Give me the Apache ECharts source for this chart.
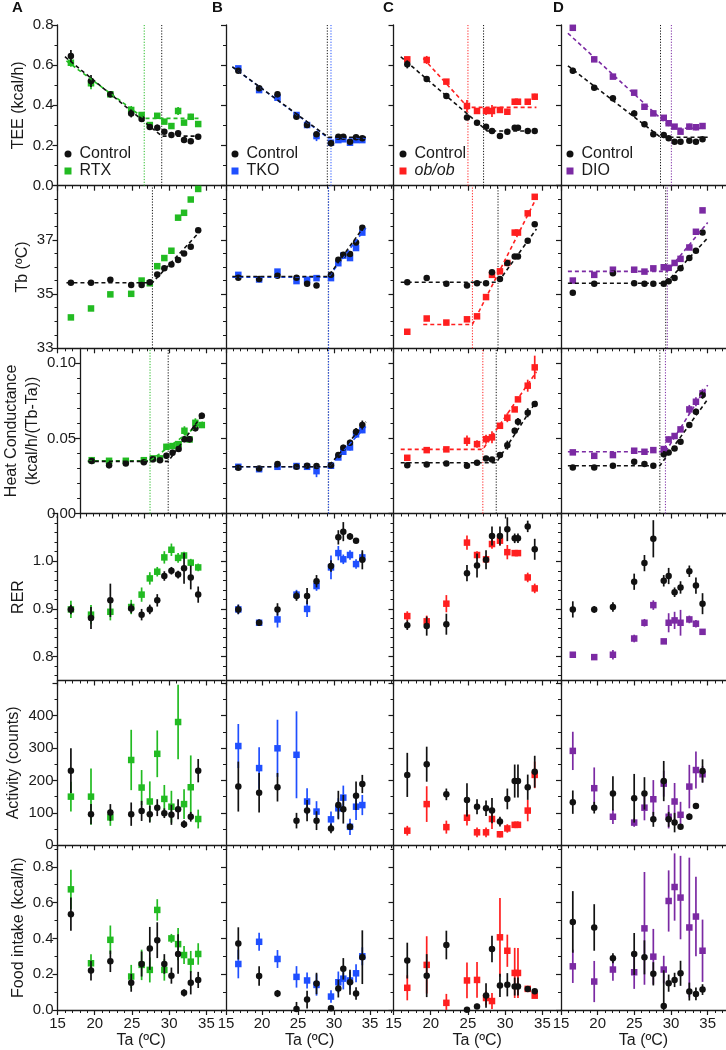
<!DOCTYPE html>
<html><head><meta charset="utf-8"><title>Thermoregulation panels</title>
<script src="https://cdn.jsdelivr.net/npm/echarts@6.0.0/dist/echarts.min.js"></script>
<style>html,body{margin:0;padding:0;background:#fff;}#chart{width:726px;height:1050px;}</style>
</head><body><div id="chart"></div>
<script>
// ===================== DATA =====================
const TA_TICKS = [15, 20, 25, 30, 35];
const TEE_TICKS = [0, 0.2, 0.4, 0.6, 0.8];
const TB_TICKS = [33, 35, 37];
const HC_TICKS = [0, 0.05, 0.10];
const RER_TICKS = [0.8, 0.9, 1.0];
const ACT_TICKS = [0, 100, 200, 300, 400];
const FOOD_TICKS = [0, 0.2, 0.4, 0.6, 0.8];

const GROUPS = ['RTX', 'TKO', 'ob/ob', 'DIO'];

const TA_A = [16.8, 19.5, 22.1, 24.9, 26.3, 27.4, 28.4, 29.35, 30.3, 31.2, 32.0, 32.9, 33.9];
const TA_B = [16.71, 19.6, 22.15, 24.79, 26.26, 27.57, 29.58, 30.6, 31.29, 32.22, 33.06, 33.93];
const TA_C = [16.85, 19.46, 22.1, 24.87, 26.22, 27.43, 28.23, 29.3, 30.29, 31.28, 31.72, 33.03, 33.97];
const TA_D = [16.61, 19.53, 22.08, 24.98, 26.38, 27.59, 29.01, 29.68, 30.49, 31.3, 32.5, 33.4, 34.3];

// ---- Column A (Control vs RTX) ----
const A_TEE_C = [0.646, 0.521, 0.455, 0.36, 0.332, 0.292, 0.289, 0.269, 0.252, 0.261, 0.227, 0.221, 0.244];
const A_TEE_CE = [0.03, 0.03, 0.015, 0.02, 0.01, 0.012, 0.015, 0.008, 0.006, 0.008, 0.008, 0.008, 0.012];
const A_TEE_E = [0.612, 0.51, 0.455, 0.377, 0.352, 0.302, 0.348, 0.319, 0.297, 0.372, 0.314, 0.343, 0.307];
const A_TEE_EE = [0.02, 0.03, 0.01, 0.02, 0.01, 0.01, 0.01, 0.01, 0.01, 0.02, 0.008, 0.015, 0.01];
const A_TEE_CFIT = [[16.0, 0.642], [29.0, 0.247], [34.05, 0.247]];
const A_TEE_EFIT = [[16.2, 0.621], [26.65, 0.335], [34.05, 0.335]];
const A_TEE_V = [29.0, 26.65];

const A_TB_C = [35.42, 35.42, 35.53, 35.34, 35.34, 35.44, 35.72, 35.95, 36.09, 36.26, 36.5, 36.75, 37.36];
const A_TB_E = [34.14, 34.47, 34.99, 35.01, 35.5, 35.4, 36.03, 36.33, 36.6, 37.82, 38.0, 38.49, 38.88];
const A_TB_CFIT = [[16.2, 35.42], [27.75, 35.42], [34.1, 37.3]];
const A_TB_V = [27.75, null];

const A_HC_C = [0.0349, 0.0322, 0.0333, 0.0342, 0.0362, 0.0355, 0.0384, 0.0404, 0.0429, 0.0495, 0.0495, 0.0567, 0.0651];
const A_HC_CE = [0.002, 0.002, 0.0015, 0.0015, 0.0015, 0.0015, 0.002, 0.002, 0.0015, 0.002, 0.002, 0.002, 0.002];
const A_HC_E = [0.0355, 0.0351, 0.0351, 0.0355, 0.0367, 0.0367, 0.0444, 0.0449, 0.0462, 0.0551, 0.0493, 0.0604, 0.0589];
const A_HC_EE = [0.0015, 0.0015, 0.0015, 0.0015, 0.0015, 0.0015, 0.002, 0.002, 0.002, 0.003, 0.002, 0.003, 0.002];
const A_HC_CFIT = [[16.2, 0.0347], [28.68, 0.0347], [34.05, 0.066]];
const A_HC_EFIT = [[16.2, 0.0351], [25.86, 0.0351], [34.05, 0.061]];
const A_HC_V = [28.68, 25.86];

const A_RER_C = [0.899, 0.881, 0.918, 0.901, 0.888, 0.899, 0.918, 0.969, 0.98, 0.972, 0.985, 0.966, 0.93];
const A_RER_CE = [0.01, 0.023, 0.035, 0.01, 0.012, 0.01, 0.013, 0.01, 0.008, 0.008, 0.032, 0.025, 0.017];
const A_RER_E = [0.899, 0.888, 0.894, 0.904, 0.93, 0.964, 0.978, 1.008, 1.024, 1.007, 1.012, 0.997, 0.987];
const A_RER_EE = [0.018, 0.02, 0.018, 0.015, 0.015, 0.013, 0.01, 0.013, 0.013, 0.01, 0.008, 0.008, 0.008];

const A_ACT_C = [230, 96, 101, 96, 106, 96, 116, 99, 94, 111, 65, 88, 230];
const A_ACT_CE = [69, 31, 26, 36, 31, 26, 26, 15, 31, 31, 12, 15, 36];
const A_ACT_E = [150, 150, 86, 263, 178, 135, 282, 143, 119, 380, 127, 179, 81];
const A_ACT_EE = [46, 87, 26, 93, 54, 62, 72, 43, 49, 115, 46, 98, 29];

const A_FOOD_C = [0.535, 0.22, 0.272, 0.152, 0.257, 0.344, 0.39, 0.257, 0.192, 0.313, 0.096, 0.152, 0.168];
const A_FOOD_CE = [0.093, 0.055, 0.06, 0.05, 0.07, 0.12, 0.1, 0.055, 0.045, 0.11, 0.02, 0.065, 0.045];
const A_FOOD_E = [0.674, 0.261, 0.392, 0.187, 0.252, 0.224, 0.559, 0.224, 0.4, 0.368, 0.307, 0.27, 0.313];
const A_FOOD_EE = [0.11, 0.05, 0.08, 0.065, 0.085, 0.07, 0.06, 0.06, 0.025, 0.09, 0.05, 0.06, 0.06];

// ---- Column B (Control vs TKO) ----
const B_TEE_C = [0.572, 0.485, 0.455, 0.343, 0.302, 0.256, 0.211, 0.244, 0.244, 0.219, 0.241, 0.236];
const B_TEE_CE = [0.01, 0.01, 0.015, 0.008, 0.006, 0.008, 0.015, 0.01, 0.01, 0.008, 0.008, 0.008];
const B_TEE_E = [0.584, 0.476, 0.438, 0.352, 0.302, 0.247, 0.214, 0.227, 0.231, 0.214, 0.227, 0.227];
const B_TEE_EE = [0.01, 0.012, 0.012, 0.008, 0.006, 0.025, 0.01, 0.01, 0.01, 0.015, 0.01, 0.01];
const B_TEE_CFIT = [[15.88, 0.592], [29.2, 0.241], [34.44, 0.241]];
const B_TEE_EFIT = [[15.88, 0.592], [29.2, 0.238], [34.44, 0.238]];
const B_TEE_V = [29.07, 29.58];

const B_TB_C = [35.6, 35.56, 35.68, 35.6, 35.38, 35.32, 35.71, 36.27, 36.45, 36.48, 36.9, 37.45];
const B_TB_E = [35.71, 35.54, 35.83, 35.48, 35.53, 35.59, 35.59, 36.14, 36.42, 36.33, 36.7, 37.27];
const B_TB_CFIT = [[15.88, 35.65], [29.2, 35.65], [34.44, 37.6]];
const B_TB_EFIT = [[15.88, 35.62], [29.2, 35.62], [34.44, 37.45]];
const B_TB_V = [29.21, 29.25];

const B_HC_C = [0.0304, 0.03, 0.0329, 0.0311, 0.0318, 0.0316, 0.0322, 0.0389, 0.0438, 0.0471, 0.0544, 0.0589];
const B_HC_CE = [0.0012, 0.0012, 0.0012, 0.0012, 0.0012, 0.0012, 0.0015, 0.0015, 0.002, 0.002, 0.0025, 0.003];
const B_HC_E = [0.0311, 0.0295, 0.0311, 0.0316, 0.0311, 0.0282, 0.0318, 0.0373, 0.0411, 0.044, 0.0527, 0.0555];
const B_HC_EE = [0.0012, 0.0012, 0.0012, 0.0012, 0.0012, 0.004, 0.0015, 0.0015, 0.002, 0.002, 0.0025, 0.002];
const B_HC_CFIT = [[15.88, 0.0311], [29.2, 0.0311], [34.44, 0.061]];
const B_HC_EFIT = [[15.88, 0.0311], [29.2, 0.0311], [34.44, 0.058]];
const B_HC_V = [29.21, 29.25];

const B_RER_C = [0.899, 0.871, 0.899, 0.927, 0.927, 0.958, 0.99, 1.05, 1.062, 1.052, 1.043, 1.003];
const B_RER_CE = [0.01, 0.007, 0.013, 0.01, 0.017, 0.013, 0.012, 0.015, 0.02, 0.007, 0.005, 0.02];
const B_RER_E = [0.899, 0.871, 0.878, 0.93, 0.9, 0.948, 0.987, 1.017, 1.004, 1.013, 0.994, 1.008];
const B_RER_EE = [0.01, 0.007, 0.017, 0.01, 0.017, 0.01, 0.025, 0.015, 0.01, 0.01, 0.01, 0.01];

const B_ACT_C = [181, 162, 179, 76, 107, 76, 52, 124, 111, 57, 153, 189];
const B_ACT_CE = [77, 61, 44, 24, 33, 29, 15, 44, 44, 10, 44, 28];
const B_ACT_E = [306, 238, 299, 279, 135, 104, 80, 114, 147, 57, 119, 124];
const B_ACT_EE = [68, 64, 88, 134, 41, 32, 24, 31, 37, 25, 41, 31];

const B_FOOD_C = [0.372, 0.19, 0.092, 0.005, 0.058, 0.148, 0.01, 0.12, 0.23, 0.155, 0.092, 0.295];
const B_FOOD_CE = [0.09, 0.055, 0.02, 0.04, 0.05, 0.06, 0.01, 0.05, 0.06, 0.07, 0.035, 0.15];
const B_FOOD_E = [0.257, 0.381, 0.285, 0.185, 0.165, 0.14, 0.075, 0.155, 0.175, 0.165, 0.205, 0.3];
const B_FOOD_EE = [0.08, 0.05, 0.05, 0.06, 0.045, 0.06, 0.035, 0.06, 0.06, 0.05, 0.05, 0.05];

// ---- Column C (Control vs ob/ob) ----
const C_TEE_C = [0.604, 0.531, 0.446, 0.339, 0.314, 0.294, 0.272, 0.247, 0.269, 0.289, 0.289, 0.272, 0.272];
const C_TEE_CE = [0.02, 0.012, 0.008, 0.008, 0.008, 0.008, 0.006, 0.01, 0.012, 0.008, 0.008, 0.006, 0.006];
const C_TEE_E = [0.629, 0.626, 0.518, 0.397, 0.372, 0.372, 0.372, 0.377, 0.368, 0.418, 0.418, 0.418, 0.443];
const C_TEE_EE = [0.01, 0.02, 0.012, 0.03, 0.012, 0.02, 0.03, 0.008, 0.015, 0.006, 0.006, 0.012, 0.015];
const C_TEE_CFIT = [[15.97, 0.642], [27.6, 0.272], [34.2, 0.272]];
const C_TEE_EFIT = [[19.0, 0.634], [25.0, 0.39], [34.2, 0.39]];
const C_TEE_V = [27.1, 25.0];

const C_TB_C = [35.44, 35.59, 35.38, 35.32, 35.4, 35.4, 35.81, 35.56, 36.15, 36.39, 36.39, 36.97, 37.58];
const C_TB_E = [33.61, 34.1, 33.95, 34.07, 34.18, 34.89, 35.71, 35.84, 36.15, 37.27, 37.27, 37.98, 38.59];
const C_TB_CFIT = [[15.97, 35.44], [29.04, 35.44], [34.2, 37.4]];
const C_TB_EFIT = [[19.0, 33.88], [25.6, 33.88], [34.2, 38.55]];
const C_TB_V = [29.04, 25.6];

const C_HC_C = [0.0322, 0.0327, 0.0333, 0.0318, 0.0338, 0.0367, 0.036, 0.0389, 0.0455, 0.0551, 0.0611, 0.0671, 0.0729];
const C_HC_CE = [0.0015, 0.0012, 0.0012, 0.0015, 0.0012, 0.0015, 0.0012, 0.0015, 0.003, 0.002, 0.0025, 0.003, 0.0015];
const C_HC_E = [0.0371, 0.0422, 0.0427, 0.0484, 0.0462, 0.0495, 0.0507, 0.0584, 0.0638, 0.0693, 0.076, 0.0851, 0.0973];
const C_HC_EE = [0.0012, 0.0012, 0.0015, 0.0035, 0.0025, 0.003, 0.004, 0.0015, 0.003, 0.0015, 0.0015, 0.004, 0.0078];
const C_HC_CFIT = [[15.97, 0.0338], [28.8, 0.0338], [34.2, 0.0749]];
const C_HC_EFIT = [[15.97, 0.0427], [27.0, 0.0427], [34.2, 0.0944]];
const C_HC_V = [28.8, 27.0];

const C_RER_C = [0.866, 0.864, 0.868, 0.975, 0.991, 1.003, 1.053, 1.053, 1.067, 1.048, 1.048, 1.073, 1.025];
const C_RER_CE = [0.01, 0.02, 0.022, 0.017, 0.025, 0.02, 0.02, 0.02, 0.025, 0.01, 0.01, 0.012, 0.022];
const C_RER_E = [0.885, 0.874, 0.911, 1.039, 1.013, 1.004, 1.036, 1.043, 1.019, 1.017, 1.017, 0.966, 0.943];
const C_RER_EE = [0.01, 0.012, 0.018, 0.015, 0.008, 0.008, 0.01, 0.01, 0.015, 0.005, 0.005, 0.01, 0.01];

const C_ACT_C = [217, 250, 157, 140, 119, 114, 107, 73, 143, 198, 198, 179, 227];
const C_ACT_CE = [68, 54, 18, 51, 23, 24, 39, 15, 32, 51, 51, 39, 49];
const C_ACT_E = [45, 127, 56, 85, 40, 40, 81, 34, 52, 63, 63, 107, 217];
const C_ACT_EE = [15, 55, 20, 24, 15, 15, 31, 10, 13, 10, 10, 33, 41];

const C_FOOD_C = [0.276, 0.192, 0.363, 0.002, 0.02, 0.081, 0.341, 0.137, 0.141, 0.131, 0.131, 0.118, 0.105];
const C_FOOD_CE = [0.1, 0.12, 0.08, 0.0, 0.015, 0.068, 0.074, 0.065, 0.065, 0.05, 0.05, 0.01, 0.01];
const C_FOOD_E = [0.124, 0.252, 0.04, 0.165, 0.168, 0.067, 0.05, 0.406, 0.331, 0.207, 0.207, 0.118, 0.08];
const C_FOOD_EE = [0.07, 0.16, 0.05, 0.1, 0.1, 0.04, 0.045, 0.22, 0.09, 0.14, 0.14, 0.01, 0.01];

// ---- Column D (Control vs DIO) ----
const D_TEE_C = [0.572, 0.488, 0.435, 0.36, 0.306, 0.256, 0.252, 0.236, 0.219, 0.219, 0.224, 0.219, 0.231];
const D_TEE_CE = [0.015, 0.012, 0.008, 0.015, 0.006, 0.006, 0.015, 0.006, 0.005, 0.005, 0.005, 0.006, 0.006];
const D_TEE_E = [0.786, 0.629, 0.543, 0.463, 0.393, 0.36, 0.338, 0.311, 0.294, 0.269, 0.294, 0.291, 0.297];
const D_TEE_EE = [0.008, 0.008, 0.008, 0.01, 0.01, 0.008, 0.012, 0.012, 0.01, 0.008, 0.015, 0.015, 0.015];
const D_TEE_CFIT = [[15.94, 0.597], [28.57, 0.241], [35.0, 0.241]];
const D_TEE_EFIT = [[15.94, 0.759], [30.05, 0.286], [34.75, 0.286]];
const D_TEE_V = [28.57, 30.05];

const D_TB_C = [35.05, 35.38, 35.77, 35.4, 35.38, 35.38, 35.38, 35.47, 35.59, 35.95, 36.33, 36.6, 37.27];
const D_TB_E = [35.5, 35.71, 35.9, 35.9, 35.83, 35.95, 35.99, 35.97, 36.15, 36.3, 36.72, 37.3, 38.09];
const D_TB_CFIT = [[15.94, 35.4], [29.28, 35.4], [35.0, 37.07]];
const D_TB_EFIT = [[15.94, 35.84], [29.5, 35.84], [35.0, 37.64]];
const D_TB_V = [29.28, 29.5];

const D_HC_C = [0.0307, 0.0307, 0.0318, 0.0344, 0.0329, 0.0318, 0.0395, 0.0407, 0.0433, 0.0478, 0.0589, 0.0677, 0.0789];
const D_HC_CE = [0.0012, 0.0012, 0.0012, 0.0015, 0.0012, 0.0012, 0.002, 0.0015, 0.0015, 0.0015, 0.0015, 0.002, 0.0025];
const D_HC_E = [0.0407, 0.0384, 0.0389, 0.0418, 0.0411, 0.0422, 0.0429, 0.0493, 0.0516, 0.056, 0.0693, 0.0744, 0.08];
const D_HC_EE = [0.0012, 0.0015, 0.0015, 0.0012, 0.0012, 0.0012, 0.0015, 0.002, 0.0015, 0.0015, 0.003, 0.003, 0.003];
const D_HC_CFIT = [[15.94, 0.0318], [28.48, 0.0318], [35.0, 0.076]];
const D_HC_EFIT = [[15.94, 0.0411], [29.24, 0.0411], [35.0, 0.0855]];
const D_HC_V = [28.48, 29.24];

const D_RER_C = [0.899, 0.899, 0.904, 0.957, 0.996, 1.047, 0.959, 0.969, 0.935, 0.945, 0.979, 0.949, 0.911];
const D_RER_CE = [0.017, 0.007, 0.01, 0.017, 0.017, 0.039, 0.012, 0.017, 0.01, 0.013, 0.012, 0.017, 0.022];
const D_RER_E = [0.804, 0.799, 0.804, 0.838, 0.871, 0.908, 0.832, 0.871, 0.876, 0.871, 0.878, 0.869, 0.852];
const D_RER_EE = [0.005, 0.005, 0.01, 0.008, 0.008, 0.01, 0.005, 0.02, 0.018, 0.027, 0.008, 0.008, 0.005];

const D_ACT_C = [133, 116, 160, 145, 160, 80, 198, 80, 70, 57, 88, 121, 229];
const D_ACT_CE = [36, 18, 53, 75, 50, 23, 62, 23, 30, 6, 10, 8, 36];
const D_ACT_E = [291, 176, 88, 70, 116, 142, 190, 88, 135, 94, 181, 232, 219];
const D_ACT_EE = [59, 64, 22, 13, 39, 59, 40, 36, 57, 40, 67, 57, 25];

const D_FOOD_C = [0.492, 0.461, 0.289, 0.313, 0.294, 0.202, 0.022, 0.15, 0.168, 0.205, 0.103, 0.09, 0.114];
const D_FOOD_CE = [0.172, 0.13, 0.028, 0.117, 0.095, 0.065, 0.2, 0.048, 0.04, 0.07, 0.05, 0.035, 0.03];
const D_FOOD_E = [0.244, 0.159, 0.226, 0.211, 0.456, 0.298, 0.226, 0.609, 0.687, 0.628, 0.461, 0.522, 0.331];
const D_FOOD_EE = [0.093, 0.115, 0.063, 0.093, 0.315, 0.155, 0.077, 0.171, 0.188, 0.233, 0.39, 0.222, 0.174];

// ===================== LAYOUT / STYLE =====================
const FONT = "'Liberation Sans', Arial, Helvetica, sans-serif";
const AX = '#1a1a1a', TXT = '#1a1a1a', CTRL = '#111111';
const EXP_COLORS = ['#22bb22', '#1f4fff', '#ff1f1f', '#7b2aa3'];
const COL_LEFT = [57.5, 226, 393.5, 561];
const COL_W = 167.5;
const COL_XMAX = [37.5, 38.26, 37.5, 37.5];
const ROW_TOP = [25, 185.7, 348.3, 513.5, 680.5, 845.3];
const ROW_BOT = [185.7, 348.3, 513.5, 680.5, 845.3, 1011.3];

function range(a, b, s) { const r = []; for (let v = a; v <= b + 1e-9; v += s) r.push(+v.toFixed(4)); return r; }
const minorOf = (all, major) => all.filter(v => !major.some(m => Math.abs(m - v) < 1e-6));

const ROWS = [
  { key: 'TEE', min: 0, max: 0.8, labels: TEE_TICKS, major: [0, 0.2, 0.4, 0.6, 0.8], minor: [0.1, 0.3, 0.5, 0.7], dec: 1, name: 'TEE (kcal/h)', gap: 23 },
  { key: 'TB', min: 33, max: 39, labels: TB_TICKS, major: [33, 35, 37, 39], minor: minorOf(range(33, 39, 0.5), [33, 35, 37, 39]), dec: 0, name: 'Tb (ºC)', gap: 20 },
  { key: 'HC', min: 0, max: 0.11, labels: HC_TICKS, major: [0, 0.05, 0.10], minor: minorOf(range(0, 0.11, 0.01), [0, 0.05, 0.1]), dec: 2, name: 'Heat Conductance\n(kcal/h/(Tb-Ta))', gap: 17 },
  { key: 'RER', min: 0.75, max: 1.1, labels: RER_TICKS, major: [0.8, 0.9, 1.0, 1.1], minor: minorOf(range(0.76, 1.1, 0.02), [0.8, 0.9, 1.0, 1.1]), dec: 1, name: 'RER', gap: 24 },
  { key: 'ACT', min: 0, max: 508, labels: ACT_TICKS, major: [0, 100, 200, 300, 400, 500], minor: [50, 150, 250, 350, 450], dec: 0, name: 'Activity (counts)', gap: 28 },
  { key: 'FOOD', min: 0, max: 0.92, labels: FOOD_TICKS, major: [0, 0.2, 0.4, 0.6, 0.8], minor: [0.1, 0.3, 0.5, 0.7, 0.9], dec: 1, name: 'Food intake (kcal/h)', gap: 23 }
];
const TA_MINOR = minorOf(range(15, 38, 1), TA_TICKS);

// Assemble the panel table from the named arrays
const COLS = [
  { ta: TA_A, TEE: [A_TEE_C, A_TEE_CE, A_TEE_E, A_TEE_EE, A_TEE_CFIT, A_TEE_EFIT, A_TEE_V],
    TB: [A_TB_C, null, A_TB_E, null, A_TB_CFIT, null, A_TB_V],
    HC: [A_HC_C, A_HC_CE, A_HC_E, A_HC_EE, A_HC_CFIT, A_HC_EFIT, A_HC_V],
    RER: [A_RER_C, A_RER_CE, A_RER_E, A_RER_EE], ACT: [A_ACT_C, A_ACT_CE, A_ACT_E, A_ACT_EE], FOOD: [A_FOOD_C, A_FOOD_CE, A_FOOD_E, A_FOOD_EE] },
  { ta: TA_B, TEE: [B_TEE_C, B_TEE_CE, B_TEE_E, B_TEE_EE, B_TEE_CFIT, B_TEE_EFIT, B_TEE_V],
    TB: [B_TB_C, null, B_TB_E, null, B_TB_CFIT, B_TB_EFIT, B_TB_V],
    HC: [B_HC_C, B_HC_CE, B_HC_E, B_HC_EE, B_HC_CFIT, B_HC_EFIT, B_HC_V],
    RER: [B_RER_C, B_RER_CE, B_RER_E, B_RER_EE], ACT: [B_ACT_C, B_ACT_CE, B_ACT_E, B_ACT_EE], FOOD: [B_FOOD_C, B_FOOD_CE, B_FOOD_E, B_FOOD_EE] },
  { ta: TA_C, TEE: [C_TEE_C, C_TEE_CE, C_TEE_E, C_TEE_EE, C_TEE_CFIT, C_TEE_EFIT, C_TEE_V],
    TB: [C_TB_C, null, C_TB_E, null, C_TB_CFIT, C_TB_EFIT, C_TB_V],
    HC: [C_HC_C, C_HC_CE, C_HC_E, C_HC_EE, C_HC_CFIT, C_HC_EFIT, C_HC_V],
    RER: [C_RER_C, C_RER_CE, C_RER_E, C_RER_EE], ACT: [C_ACT_C, C_ACT_CE, C_ACT_E, C_ACT_EE], FOOD: [C_FOOD_C, C_FOOD_CE, C_FOOD_E, C_FOOD_EE] },
  { ta: TA_D, TEE: [D_TEE_C, D_TEE_CE, D_TEE_E, D_TEE_EE, D_TEE_CFIT, D_TEE_EFIT, D_TEE_V],
    TB: [D_TB_C, null, D_TB_E, null, D_TB_CFIT, D_TB_EFIT, D_TB_V],
    HC: [D_HC_C, D_HC_CE, D_HC_E, D_HC_EE, D_HC_CFIT, D_HC_EFIT, D_HC_V],
    RER: [D_RER_C, D_RER_CE, D_RER_E, D_RER_EE], ACT: [D_ACT_C, D_ACT_CE, D_ACT_E, D_ACT_EE], FOOD: [D_FOOD_C, D_FOOD_CE, D_FOOD_E, D_FOOD_EE] }
];

// ===================== BUILD OPTION =====================
const grids = [], xAxes = [], yAxes = [], series = [];

function errRender(params, api) {
  const x = api.value(0), y = api.value(1), e = api.value(2);
  if (!e) return null;
  const p1 = api.coord([x, y - e]), p2 = api.coord([x, y + e]);
  const cs = params.coordSys;
  const clamp = v => Math.min(cs.y + cs.height, Math.max(cs.y, v));
  return { type: 'line', shape: { x1: p1[0], y1: clamp(p1[1]), x2: p2[0], y2: clamp(p2[1]) },
    style: { stroke: api.visual('color'), lineWidth: 1.7 } };
}

ROWS.forEach((row, r) => {
  COLS.forEach((col, c) => {
    const g = grids.length;
    grids.push({ left: COL_LEFT[c], top: ROW_TOP[r], width: COL_W, height: ROW_BOT[r] - ROW_TOP[r], containLabel: false });
    const bottom = r === ROWS.length - 1;
    const xmax = COL_XMAX[c];
    xAxes.push({ gridIndex: g, type: 'value', min: 15, max: xmax, position: 'bottom',
      axisLine: { show: true, onZero: false, lineStyle: { color: AX, width: 1.3 } },
      axisTick: { show: true, customValues: TA_TICKS, length: 5, lineStyle: { color: AX, width: 1.2 } },
      axisLabel: { show: bottom, customValues: TA_TICKS, fontSize: 15, color: TXT, fontFamily: FONT, margin: 6 },
      splitLine: { show: false },
      name: bottom ? 'Ta (ºC)' : '', nameLocation: 'middle', nameGap: 23,
      nameTextStyle: { fontSize: 16, color: TXT, fontFamily: FONT } });
    xAxes.push({ gridIndex: g, type: 'value', min: 15, max: xmax, position: 'bottom',
      axisLine: { show: false }, axisTick: { show: true, customValues: TA_MINOR.filter(v => v < xmax), length: 3, lineStyle: { color: AX, width: 1 } },
      axisLabel: { show: false }, splitLine: { show: false } });
    yAxes.push({ gridIndex: g, type: 'value', min: row.min, max: row.max, position: 'left',
      axisLine: { show: true, onZero: false, lineStyle: { color: AX, width: 1.3 } },
      axisTick: { show: true, customValues: row.major, length: 5, lineStyle: { color: AX, width: 1.2 } },
      axisLabel: { show: c === 0, customValues: row.labels, fontSize: 15, color: TXT, fontFamily: FONT, margin: 4,
        formatter: v => Number(v).toFixed(row.dec) },
      splitLine: { show: false },
      name: c === 0 ? row.name : '', nameLocation: 'middle', nameGap: row.gap, nameRotate: 90,
      nameTextStyle: { fontSize: 16, color: TXT, fontFamily: FONT, lineHeight: 21 } });
    yAxes.push({ gridIndex: g, type: 'value', min: row.min, max: row.max, position: 'left',
      axisLine: { show: false }, axisTick: { show: true, customValues: row.minor, length: 3, lineStyle: { color: AX, width: 1 } },
      axisLabel: { show: false }, splitLine: { show: false } });

    const xi = 2 * g, yi = 2 * g;
    const d = col[row.key];
    const ta = col.ta;
    const ecol = EXP_COLORS[c];
    const [cv, ce, ev, ee, cfit, efit, vl] = d;

    if (vl) {
      const vcolors = [CTRL, ecol];
      vl.forEach((v, k) => {
        if (v == null) return;
        series.push({ type: 'line', name: '_v', xAxisIndex: xi, yAxisIndex: yi, data: [[v, row.min], [v, row.max]],
          showSymbol: false, silent: true, z: 1, lineStyle: { color: vcolors[k], width: 1, type: [1.2, 1.6] } });
      });
    }
    if (ee) series.push({ type: 'custom', name: '_ee', xAxisIndex: xi, yAxisIndex: yi, renderItem: errRender, z: 2,
      itemStyle: { color: ecol }, data: ta.map((t, i) => [t, ev[i], ee[i]]) });
    series.push({ type: 'scatter', name: GROUPS[c], xAxisIndex: xi, yAxisIndex: yi, symbol: 'rect', symbolSize: 6.5, z: 3,
      itemStyle: { color: ecol, opacity: 1 }, data: ta.map((t, i) => [t, ev[i]]) });
    if (ce) series.push({ type: 'custom', name: '_ce', xAxisIndex: xi, yAxisIndex: yi, renderItem: errRender, z: 4,
      itemStyle: { color: CTRL }, data: ta.map((t, i) => [t, cv[i], ce[i]]) });
    series.push({ type: 'scatter', name: 'Control', xAxisIndex: xi, yAxisIndex: yi, symbol: 'circle', symbolSize: 6.5, z: 5,
      itemStyle: { color: CTRL, opacity: 1 }, data: ta.map((t, i) => [t, cv[i]]) });
    if (efit) series.push({ type: 'line', name: '_ef', xAxisIndex: xi, yAxisIndex: yi, data: efit, showSymbol: false, silent: true, z: 6,
      lineStyle: { color: ecol, width: 1.6, type: [4, 3] } });
    if (cfit) series.push({ type: 'line', name: '_cf', xAxisIndex: xi, yAxisIndex: yi, data: cfit, showSymbol: false, silent: true, z: 7,
      lineStyle: { color: CTRL, width: 1.6, type: [4, 3] } });
  });
});

const LEG_LEFT = [64.5, 231.5, 399.5, 566.5];
const legends = GROUPS.map((gname, c) => ({
  left: LEG_LEFT[c], top: 146, orient: 'vertical', itemWidth: 7, itemHeight: 7, itemGap: 1,
  selectedMode: false, padding: 0,
  data: [{ name: 'Control', icon: 'circle' }, { name: gname, icon: 'rect' }],
  formatter: n => n === 'ob/ob' ? '{i|ob/ob}' : n,
  textStyle: { fontSize: 16, color: TXT, fontFamily: FONT, padding: [0, 0, 0, 3],
    rich: { i: { fontStyle: 'italic', fontSize: 16, color: TXT, fontFamily: FONT } } }
}));

const LETTERS = ['A', 'B', 'C', 'D'];
const LETTER_X = [12, 212, 383, 553];
const graphic = LETTERS.map((t, i) => ({ type: 'text', left: LETTER_X[i], top: 0,
  style: { text: t, fontSize: 15, fontWeight: 'bold', fill: '#111', fontFamily: FONT } }));

const chart = echarts.init(document.getElementById('chart'), null, { renderer: 'canvas', width: 726, height: 1050 });
chart.setOption({
  animation: false,
  backgroundColor: '#ffffff',
  grid: grids, xAxis: xAxes, yAxis: yAxes, series: series,
  legend: legends, graphic: graphic
});
</script></body></html>
